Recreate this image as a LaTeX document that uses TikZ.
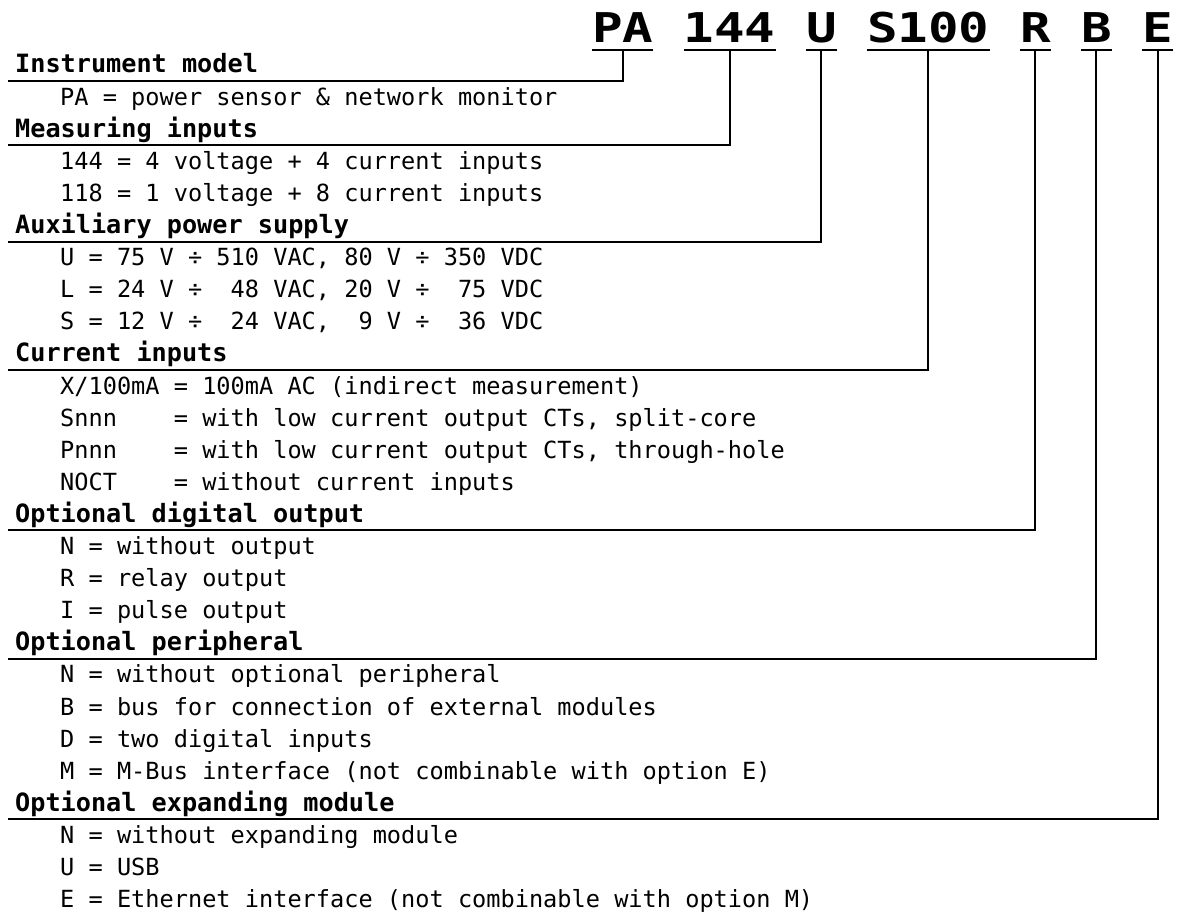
\documentclass[tikz,border=0pt]{standalone}
\usepackage{fontspec}
\setmonofont{DejaVu Sans Mono}
\newfontfamily\codefont[FakeStretch=1.24]{DejaVu Sans Mono}
\usetikzlibrary{positioning}

\newcommand{\itemfont}{\ttfamily\fontsize{23.6}{28}\selectfont}
\newcommand{\headfont}{\ttfamily\bfseries\fontsize{25.2}{30}\selectfont}
\newcommand{\bigcode}{\codefont\bfseries\fontsize{41}{41}\selectfont}

\begin{document}
\begin{tikzpicture}[x=1pt, y=-1pt,
    code/.style={font=\bigcode, inner sep=0pt, outer sep=0pt, anchor=base west},
    head/.style={font=\headfont, inner sep=0pt, anchor=base west},
    item/.style={font=\itemfont, inner sep=0pt, anchor=base west},
    rule/.style={line width=2pt}
]
\useasboundingbox (0,0) rectangle (1183,915);

% Order code
\node[code] (pa) at (592, 43) {PA};
\node[code] (inputs) at (683.7, 43) {144};
\node[code] (supply) at (806, 43) {U};
\node[code] (ct) at (867.1, 43) {S100};
\node[code] (dout) at (1020, 43) {R};
\node[code] (periph) at (1081.1, 43) {B};
\node[code] (expmod) at (1142.3, 43) {E};
\coordinate (uline) at (0, 50);

% Headings
\node[head] (h-model) at (15, 73) {Instrument model};
\node[head] (h-inputs) at (15, 137.2) {Measuring inputs};
\node[head] (h-supply) at (15, 233.5) {Auxiliary power supply};
\node[head] (h-ct) at (15, 361.9) {Current inputs};
\node[head] (h-dout) at (15, 522.4) {Optional digital output};
\node[head] (h-periph) at (15, 650.8) {Optional peripheral};
\node[head] (h-expmod) at (15, 811.3) {Optional expanding module};

% Options
\node[item] (o-pa) at (60, 105.1) {PA = power sensor \& network monitor};
\node[item] (o-144) at (60, 169.3) {144 = 4 voltage + 4 current inputs};
\node[item] (o-118) at (60, 201.4) {118 = 1 voltage + 8 current inputs};
\node[item] (o-u) at (60, 265.6) {U = 75 V ÷ 510 VAC, 80 V ÷ 350 VDC};
\node[item] (o-l) at (60, 297.7) {L = 24 V ÷~~48 VAC, 20 V ÷~~75 VDC};
\node[item] (o-s) at (60, 329.8) {S = 12 V ÷~~24 VAC,~~9 V ÷~~36 VDC};
\node[item] (o-x) at (60, 394.0) {X/100mA = 100mA AC (indirect measurement)};
\node[item] (o-snnn) at (60, 426.1) {Snnn~~~~= with low current output CTs, split-core};
\node[item] (o-pnnn) at (60, 458.2) {Pnnn~~~~= with low current output CTs, through-hole};
\node[item] (o-noct) at (60, 490.3) {NOCT~~~~= without current inputs};
\node[item] (o-dn) at (60, 554.5) {N = without output};
\node[item] (o-dr) at (60, 586.6) {R = relay output};
\node[item] (o-di) at (60, 618.7) {I = pulse output};
\node[item] (o-pn) at (60, 682.9) {N = without optional peripheral};
\node[item] (o-pb) at (60, 715.0) {B = bus for connection of external modules};
\node[item] (o-pd) at (60, 747.1) {D = two digital inputs};
\node[item] (o-pm) at (60, 779.2) {M = M-Bus interface (not combinable with option E)};
\node[item] (o-en) at (60, 843.4) {N = without expanding module};
\node[item] (o-eu) at (60, 875.5) {U = USB};
\node[item] (o-ee) at (60, 907.6) {E = Ethernet interface (not combinable with option M)};

% Rule starts
\coordinate (r-model) at (8, 81);
\coordinate (r-inputs) at (8, 145.2);
\coordinate (r-supply) at (8, 241.5);
\coordinate (r-ct) at (8, 369.9);
\coordinate (r-dout) at (8, 530.4);
\coordinate (r-periph) at (8, 658.8);
\coordinate (r-expmod) at (8, 819.3);

% Underlines
\foreach \g in {pa, inputs, supply, ct, dout, periph, expmod}
  \draw[rule] (\g.west |- uline) -- (\g.east |- uline);

% Leaders
\draw[rule] (r-model) -| (pa |- uline);
\draw[rule] (r-inputs) -| (inputs |- uline);
\draw[rule] (r-supply) -| (supply |- uline);
\draw[rule] (r-ct) -| (ct |- uline);
\draw[rule] (r-dout) -| (dout |- uline);
\draw[rule] (r-periph) -| (periph |- uline);
\draw[rule] (r-expmod) -| (expmod |- uline);

\end{tikzpicture}
\end{document}
